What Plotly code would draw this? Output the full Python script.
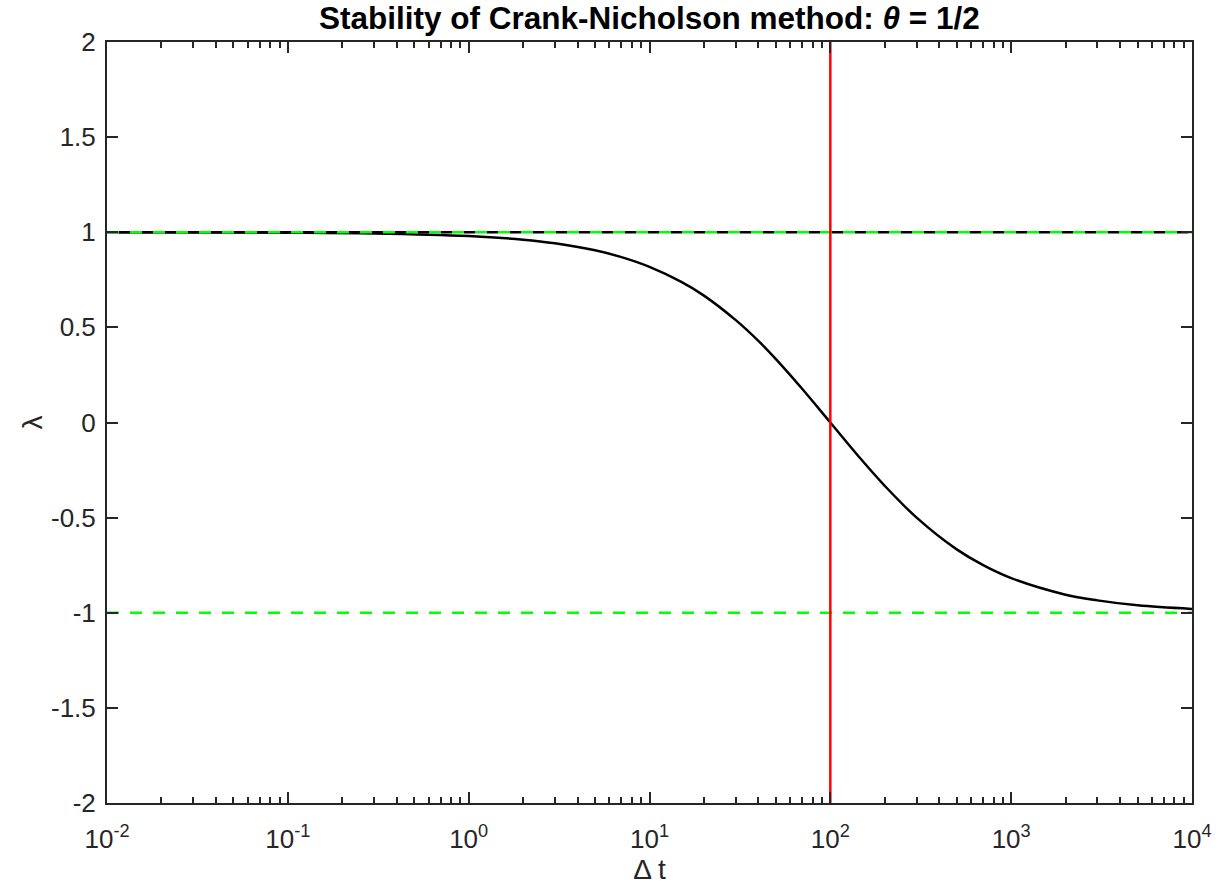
import plotly.graph_objects as go

# Data
dt = [0.01, 0.1, 0.3, 1, 2, 3, 5, 7, 10, 15, 20, 30, 40, 50, 70, 100,
      150, 200, 300, 500, 700, 1000, 2000, 3000, 5000, 10000]
lam = [1.000, 0.998, 0.994, 0.980, 0.961, 0.942, 0.905, 0.869, 0.818, 0.739,
       0.667, 0.538, 0.429, 0.333, 0.176, 0.000, -0.200, -0.333, -0.500,
       -0.667, -0.750, -0.818, -0.905, -0.935, -0.961, -0.980]
x_range = [0.01, 10000]
upper = [1, 1]
lower = [-1, -1]
dt_critical = [100, 100]
y_span = [-2, 2]

x_tickvals = [0.01, 0.1, 1, 10, 100, 1000, 10000]
x_ticktext = ["10<sup>-2</sup>", "10<sup>-1</sup>", "10<sup>0</sup>", "10<sup>1</sup>",
              "10<sup>2</sup>", "10<sup>3</sup>", "10<sup>4</sup>"]
y_tickvals = [-2, -1.5, -1, -0.5, 0, 0.5, 1, 1.5, 2]
y_ticktext = ["-2", "-1.5", "-1", "-0.5", "0", "0.5", "1", "1.5", "2"]

minor_vals = [m * 10 ** e for e in range(-2, 4) for m in range(2, 10)]

axc = "#262626"
font = "Liberation Sans, Arial, Helvetica, sans-serif"

fig = go.Figure()
fig.add_trace(go.Scatter(x=dt, y=lam, mode="lines", line=dict(color="black", width=2.5, shape="spline"),
                         showlegend=False))
fig.add_trace(go.Scatter(x=x_range, y=upper, mode="lines",
                         line=dict(color="#00FF00", width=2.5, dash="12px,11px"), showlegend=False))
fig.add_trace(go.Scatter(x=x_range, y=lower, mode="lines",
                         line=dict(color="#00FF00", width=2.5, dash="12px,11px"), showlegend=False))
fig.add_trace(go.Scatter(x=x_range, y=upper, mode="lines",
                         line=dict(color="black", width=2.5, dash="0px,12px,11px,0px"), showlegend=False))
fig.add_trace(go.Scatter(x=dt_critical, y=y_span, mode="lines",
                         line=dict(color="#FF0000", width=2.5), showlegend=False))

fig.update_layout(
    width=1219, height=886,
    margin=dict(l=107, r=27, t=42, b=83),
    paper_bgcolor="white", plot_bgcolor="white",
    font=dict(family=font, color=axc, size=26),
    title=dict(text="<b>Stability of Crank-Nicholson method: <i>θ</i> = 1/2</b>",
               x=0.5327, xanchor="center", y=1 - 18 / 886, yanchor="middle", yref="container",
               font=dict(size=31.5, color="black", family=font)),
    xaxis=dict(type="log", range=[-2, 4], tickmode="array", tickvals=x_tickvals, ticktext=x_ticktext,
               showgrid=False, zeroline=False, showline=True, linecolor=axc, linewidth=2,
               mirror="ticks", ticks="inside", ticklen=11, tickwidth=1.5, tickcolor=axc,
               minor=dict(tickmode="array", tickvals=minor_vals, ticks="inside", ticklen=6,
                          tickwidth=1.5, tickcolor=axc, showgrid=False),
               title=dict(text="Δ t", font=dict(size=28, color=axc), standoff=6),
               tickfont=dict(size=26, color=axc), ticklabelstandoff=12, automargin=False),
    yaxis=dict(range=[-2, 2], tickmode="array", tickvals=y_tickvals, ticktext=y_ticktext,
               showgrid=False, zeroline=False, showline=True, linecolor=axc, linewidth=2,
               mirror="ticks", ticks="inside", ticklen=11, tickwidth=1.5, tickcolor=axc,
               title=dict(text="λ", font=dict(size=28, color=axc), standoff=0),
               tickfont=dict(size=26, color=axc), ticklabelstandoff=4, automargin=False),
)

fig.write_html("out.html")
